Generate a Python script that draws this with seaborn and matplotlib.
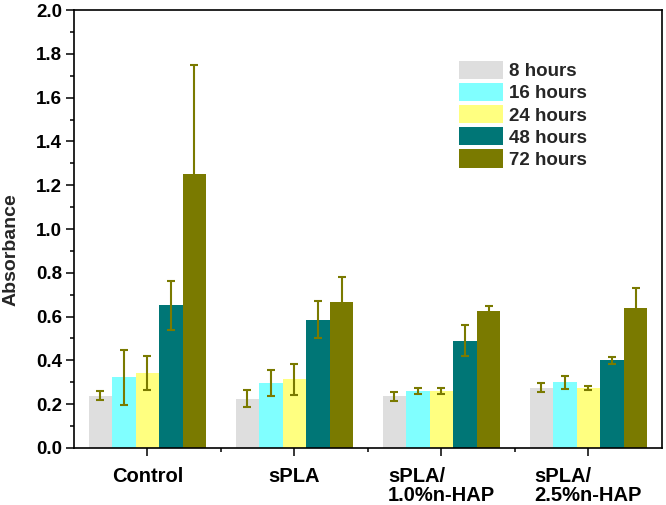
import numpy as np
import pandas as pd
import seaborn as sns
import matplotlib.pyplot as plt
from matplotlib.ticker import MultipleLocator, FixedLocator

# data
groups = ['Control', 'sPLA', 'sPLA/\n1.0%n-HAP', 'sPLA/\n2.5%n-HAP']
times = ['8 hours', '16 hours', '24 hours', '48 hours', '72 hours']
colors = ['#dedede', '#80ffff', '#ffff80', '#007676', '#7a7a00']

h8 = [0.238, 0.225, 0.235, 0.275]
h16 = [0.322, 0.297, 0.260, 0.300]
h24 = [0.343, 0.313, 0.261, 0.275]
h48 = [0.652, 0.585, 0.490, 0.400]
h72 = [1.252, 0.665, 0.627, 0.637]

e8 = [0.020, 0.040, 0.020, 0.020]
e16 = [0.125, 0.060, 0.012, 0.030]
e24 = [0.077, 0.072, 0.013, 0.010]
e48 = [0.112, 0.085, 0.070, 0.016]
e72 = [0.498, 0.115, 0.020, 0.093]

values = [h8, h16, h24, h48, h72]
errors = [e8, e16, e24, e48, e72]

rows = []
for t, vals, errs in zip(times, values, errors):
    for g, v, e in zip(groups, vals, errs):
        rows.append({'group': g, 'time': t, 'value': v, 'err': e})
df = pd.DataFrame(rows)

sns.set_style('ticks')
plt.rcParams['font.family'] = ['Liberation Sans', 'DejaVu Sans']
plt.rcParams['font.weight'] = 'bold'

fig = plt.figure(figsize=(6.66, 5.05), dpi=100)
ax = fig.add_axes([0.111, 0.113, 0.883, 0.867])

sns.barplot(data=df, x='group', y='value', hue='time', order=groups,
            hue_order=times, palette=colors, errorbar=None, width=0.8,
            linewidth=0, saturation=1, ax=ax)

# error bars on top of each bar
for cont, t in zip(ax.containers, times):
    sub = df[df['time'] == t].set_index('group').loc[groups]
    xs = [p.get_x() + p.get_width() / 2 for p in cont.patches]
    ax.errorbar(xs, sub['value'], yerr=sub['err'], fmt='none',
                ecolor='#7a7a00', elinewidth=1.5, capsize=3, capthick=1.5,
                zorder=3)

ax.set_xlim(-0.5, 3.5)
ax.set_ylim(0, 2.0)
ax.yaxis.set_major_locator(MultipleLocator(0.2))
ax.yaxis.set_minor_locator(MultipleLocator(0.1))
ax.xaxis.set_minor_locator(FixedLocator([0.5, 1.5, 2.5]))
ax.set_yticks(np.arange(0, 2.01, 0.2))
ax.set_yticklabels([f'{v:.1f}' for v in np.arange(0, 2.01, 0.2)],
                   fontsize=13.5, fontweight='bold')
ax.set_xticks(range(4))
ax.set_xticklabels(groups, fontsize=14.5, fontweight='bold', ha='center',
                   multialignment='left', linespacing=1.0)
ax.tick_params(axis='both', which='major', direction='out', length=6,
               width=1.1, colors='black')
ax.tick_params(axis='both', which='minor', direction='out', length=3,
               width=1.1, colors='black')
ax.tick_params(axis='x', pad=8)
ax.tick_params(axis='y', pad=2.5)

for s in ax.spines.values():
    s.set_visible(True)
    s.set_linewidth(1.2)
    s.set_color('black')

ax.set_xlabel('')
ax.set_ylabel('Absorbance', fontsize=14, fontweight='bold')
ax.yaxis.set_label_coords(-0.092, 0.452)

leg = ax.legend(loc='upper left', bbox_to_anchor=(0.655, 0.884),
                frameon=False, fontsize=13.5, borderpad=0, borderaxespad=0,
                handlelength=2.35, handleheight=1.12, labelspacing=0.14,
                handletextpad=0.32)
for txt in leg.get_texts():
    txt.set_fontweight('bold')

fig.savefig('out.png', dpi=100)
